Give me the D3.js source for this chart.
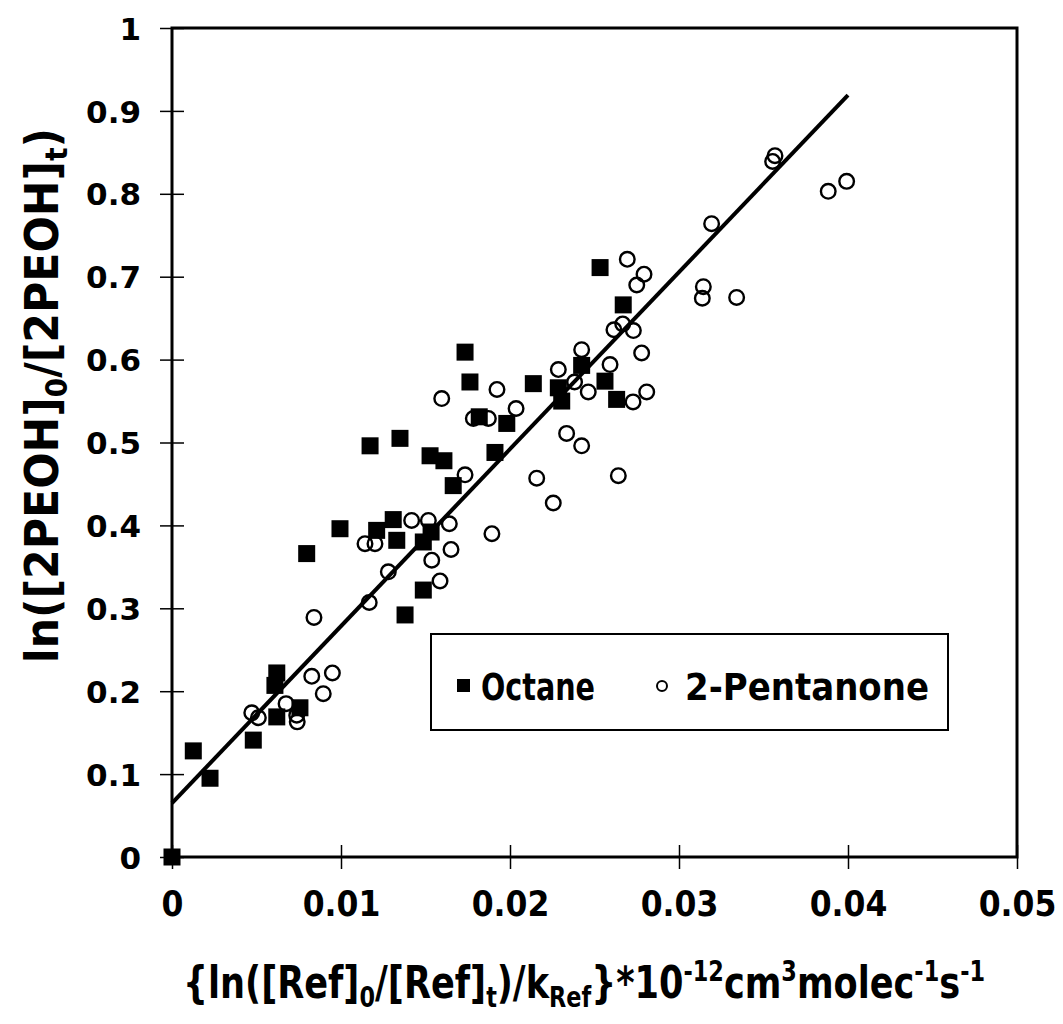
<!DOCTYPE html>
<html>
<head>
<meta charset="utf-8">
<script src="https://cdn.jsdelivr.net/npm/d3@7"></script>
<style>
  body { margin: 0; background: #fff; }
  svg { display: block; }
</style>
</head>
<body>
<div id="chart"></div>
<script>
// Octane (filled squares)
var octaneX = [0, 0.00126, 0.00225, 0.00481, 0.0062, 0.00609, 0.0062, 0.00757, 0.00797, 0.00994,
  0.01211, 0.01309, 0.0133, 0.01487, 0.01487, 0.01379, 0.01172, 0.01349, 0.01527, 0.01609,
  0.01664, 0.01734, 0.01763, 0.01911, 0.01981, 0.01818, 0.02138, 0.02286, 0.02306, 0.02424,
  0.02562, 0.02631, 0.02533, 0.0267, 0.01533];
var octaneY = [0, 0.128, 0.095, 0.141, 0.222, 0.207, 0.169, 0.18, 0.366, 0.396,
  0.394, 0.407, 0.382, 0.38, 0.322, 0.292, 0.496, 0.505, 0.484, 0.478,
  0.448, 0.609, 0.573, 0.488, 0.523, 0.531, 0.571, 0.566, 0.55, 0.593,
  0.574, 0.552, 0.711, 0.666, 0.392];

// 2-Pentanone (open circles)
var pentX = [0.00472, 0.00511, 0.00675, 0.00738, 0.00741, 0.00827, 0.00949, 0.00895, 0.0084, 0.01142,
  0.01201, 0.01167, 0.0128, 0.01418, 0.01517, 0.01537, 0.01586, 0.01641, 0.01596, 0.01734,
  0.01783, 0.01872, 0.01923, 0.02036, 0.01893, 0.01651, 0.02286, 0.02424, 0.02592, 0.02463,
  0.02382, 0.02335, 0.02424, 0.02158, 0.02256, 0.02641, 0.02728, 0.02694, 0.02793, 0.0275,
  0.02667, 0.02615, 0.0273, 0.02779, 0.02809, 0.03144, 0.03138, 0.03341, 0.03568, 0.03554,
  0.03992, 0.03883, 0.03193];
var pentY = [0.174, 0.168, 0.185, 0.171, 0.163, 0.218, 0.222, 0.197, 0.289, 0.378,
  0.378, 0.307, 0.344, 0.406, 0.406, 0.358, 0.333, 0.402, 0.553, 0.461,
  0.529, 0.529, 0.564, 0.541, 0.39, 0.371, 0.588, 0.612, 0.594, 0.561,
  0.573, 0.511, 0.496, 0.457, 0.427, 0.46, 0.549, 0.721, 0.703, 0.69,
  0.643, 0.636, 0.635, 0.608, 0.561, 0.688, 0.674, 0.675, 0.846, 0.839,
  0.815, 0.803, 0.764];

// regression line end points
var fitX = [0, 0.04];
var fitY = [0.065, 0.919];

var xTickValues = [0, 0.01, 0.02, 0.03, 0.04, 0.05];
var xTickLabels = ["0", "0.01", "0.02", "0.03", "0.04", "0.05"];
var yTickValues = [0, 0.1, 0.2, 0.3, 0.4, 0.5, 0.6, 0.7, 0.8, 0.9, 1];
var yTickLabels = ["0", "0.1", "0.2", "0.3", "0.4", "0.5", "0.6", "0.7", "0.8", "0.9", "1"];
var seriesNames = ["Octane", "2-Pentanone"];

var width = 1063;
var height = 1024;
var margin = { top: 28, right: 46, bottom: 167, left: 172 };

var x = d3.scaleLinear().domain([0, 0.05]).range([margin.left, width - margin.right]);
var y = d3.scaleLinear().domain([0, 1]).range([height - margin.bottom, margin.top]);

var svg = d3.select("#chart")
  .append("svg")
  .attr("width", width)
  .attr("height", height)
  .attr("viewBox", [0, 0, width, height]);

var narrow = "'DejaVu Sans Condensed', 'Liberation Sans Narrow', sans-serif";

// axes (ticks cross the frame line)
var gx = svg.append("g")
  .attr("transform", `translate(0,${y(0)})`)
  .call(d3.axisBottom(x).tickValues(xTickValues)
    .tickFormat((d, i) => xTickLabels[i]).tickSize(12).tickPadding(22));
gx.select(".domain").remove();
gx.selectAll(".tick line").attr("y1", -12).attr("stroke", "#000").attr("stroke-width", 1.5);
gx.selectAll(".tick text")
  .attr("fill", "#000")
  .style("font-family", narrow)
  .style("font-weight", "bold")
  .style("font-size", "35px");

var gy = svg.append("g")
  .attr("transform", `translate(${x(0)},0)`)
  .call(d3.axisLeft(y).tickValues(yTickValues)
    .tickFormat((d, i) => yTickLabels[i]).tickSize(12).tickPadding(19));
gy.select(".domain").remove();
gy.selectAll(".tick line").attr("x1", 12).attr("stroke", "#000").attr("stroke-width", 1.5);
gy.selectAll(".tick text")
  .attr("fill", "#000")
  .attr("dy", "0.36em")
  .style("font-family", "'DejaVu Sans', sans-serif")
  .style("font-weight", "bold")
  .style("font-size", "31px");

// frame
svg.append("rect")
  .attr("x", x(0))
  .attr("y", y(1))
  .attr("width", x(0.05) - x(0))
  .attr("height", y(0) - y(1))
  .attr("fill", "none")
  .attr("stroke", "#000")
  .attr("stroke-width", 3);

// fitted line
svg.append("line")
  .attr("x1", x(fitX[0])).attr("y1", y(fitY[0]))
  .attr("x2", x(fitX[1])).attr("y2", y(fitY[1]))
  .attr("stroke", "#000")
  .attr("stroke-width", 4);

var sq = 17;
svg.append("g")
  .selectAll("rect")
  .data(octaneX.map((d, i) => [d, octaneY[i]]))
  .join("rect")
  .attr("x", d => x(d[0]) - sq / 2)
  .attr("y", d => y(d[1]) - sq / 2)
  .attr("width", sq)
  .attr("height", sq)
  .attr("fill", "#000");

svg.append("g")
  .selectAll("circle")
  .data(pentX.map((d, i) => [d, pentY[i]]))
  .join("circle")
  .attr("cx", d => x(d[0]))
  .attr("cy", d => y(d[1]))
  .attr("r", 7.3)
  .attr("fill", "none")
  .attr("stroke", "#000")
  .attr("stroke-width", 2.4);

// legend
var legend = svg.append("g").attr("transform", "translate(431,634)");
legend.append("rect")
  .attr("width", 517).attr("height", 96)
  .attr("fill", "#fff").attr("stroke", "#000").attr("stroke-width", 2);
legend.append("rect")
  .attr("x", 26).attr("y", 45).attr("width", 13).attr("height", 13).attr("fill", "#000");
legend.append("circle")
  .attr("cx", 231).attr("cy", 52).attr("r", 5)
  .attr("fill", "none").attr("stroke", "#000").attr("stroke-width", 2);
legend.selectAll("text")
  .data(seriesNames)
  .join("text")
  .attr("x", (d, i) => i ? 254 : 50)
  .attr("y", 66)
  .attr("textLength", (d, i) => i ? 244 : 114)
  .attr("lengthAdjust", "spacingAndGlyphs")
  .style("font-family", narrow)
  .style("font-weight", "bold")
  .style("font-size", "38px")
  .text(d => d);

// axis titles: parts are [text, "sub" | "sup" | null], shifts in px
function richText(t, parts, small, subShift, supShift) {
  var shift = 0;
  parts.forEach(p => {
    var target = p[1] == "sub" ? subShift : p[1] == "sup" ? -supShift : 0;
    var ts = t.append("tspan").text(p[0]).attr("dy", target - shift);
    if (p[1]) ts.style("font-size", small);
    shift = target;
  });
}

var xt = svg.append("text")
  .attr("x", 183)
  .attr("y", 998)
  .attr("textLength", 802)
  .attr("lengthAdjust", "spacingAndGlyphs")
  .style("font-family", narrow)
  .style("font-weight", "bold")
  .style("font-size", "44px");
richText(xt, [
  ["{ln([Ref]", null], ["0", "sub"], ["/[Ref]", null], ["t", "sub"], [")/k", null],
  ["Ref", "sub"], ["}*10", null], ["-12", "sup"], ["cm", null], ["3", "sup"],
  ["molec", null], ["-1", "sup"], ["s", null], ["-1", "sup"]
], "28px", 9, 17);

var yt = svg.append("text")
  .attr("transform", "translate(58,663) rotate(-90)")
  .attr("x", 0)
  .attr("y", 0)
  .attr("textLength", 535)
  .attr("lengthAdjust", "spacingAndGlyphs")
  .style("font-family", narrow)
  .style("font-weight", "bold")
  .style("font-size", "46px");
richText(yt, [
  ["ln([2PEOH]", null], ["0", "sub"], ["/[2PEOH]", null], ["t", "sub"], [")", null]
], "30px", 9, 17);
</script>
</body>
</html>
